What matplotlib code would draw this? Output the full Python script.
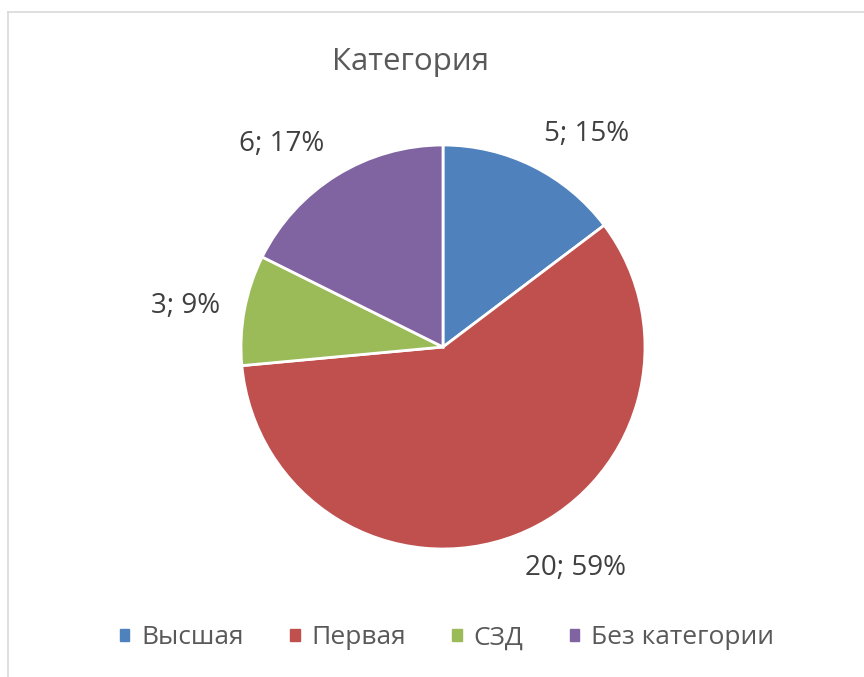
import matplotlib.pyplot as plt
from matplotlib.patches import Patch
from matplotlib.lines import Line2D
import numpy as np

categories = ["Высшая", "Первая", "СЗД", "Без категории"]
values = [5, 20, 3, 6]
percents = [15, 59, 9, 17]  # as shown on the chart
colors = ["#4F81BD", "#C0504D", "#9BBB59", "#8064A2"]

plt.rcParams["font.family"] = ["Open Sans", "DejaVu Sans"]

W, H = 864, 677
fig = plt.figure(figsize=(W / 100, H / 100), dpi=100)

# pie axes, square box around the circle
cx, cy, R = 443, 347, 202
ax = fig.add_axes([(cx - R) / W, (H - cy - R) / H, 2 * R / W, 2 * R / H])
wedges, _ = ax.pie(values, colors=colors, startangle=90, counterclock=False,
                   radius=1, wedgeprops=dict(edgecolor="white", linewidth=2))
ax.set_xlim(-1, 1)
ax.set_ylim(-1, 1)
ax.set_aspect("equal")
ax.axis("off")

# data labels, placed just outside each slice
for w, v, p in zip(wedges, values, percents):
    ang = np.deg2rad((w.theta1 + w.theta2) / 2)
    x, y = 1.12 * np.cos(ang), 1.1 * np.sin(ang)
    ha = "left" if x > 0 else "right"
    if y > 0.5:
        va = "bottom"
    elif y < -0.5:
        va = "top"
    else:
        va = "center"
    ax.text(x, y, f"{v}; {p}%", ha=ha, va=va, fontsize=20, color="#404040",
            clip_on=False)

fig.text(0.5 * (333 + 488) / W, 1 - 62 / H, "Категория", ha="center", va="center",
         fontsize=22.5, color="#595959")

handles = [Patch(facecolor=c, edgecolor=c) for c in colors]
fig.legend(handles, categories, loc="center", bbox_to_anchor=(447 / W, 1 - 638 / H),
           ncol=4, frameon=False, fontsize=19, labelcolor="#595959",
           handlelength=0.36, handleheight=0.36, handletextpad=0.45,
           columnspacing=1.75)

# light chart border (top and left visible)
fig.add_artist(Line2D([7.5 / W, 1], [1 - 11.5 / H, 1 - 11.5 / H], color="#D9D9D9", lw=1.2))
fig.add_artist(Line2D([7.5 / W, 7.5 / W], [0, 1 - 11.5 / H], color="#D9D9D9", lw=1.2))

fig.savefig("out.png", dpi=100, facecolor="white")
